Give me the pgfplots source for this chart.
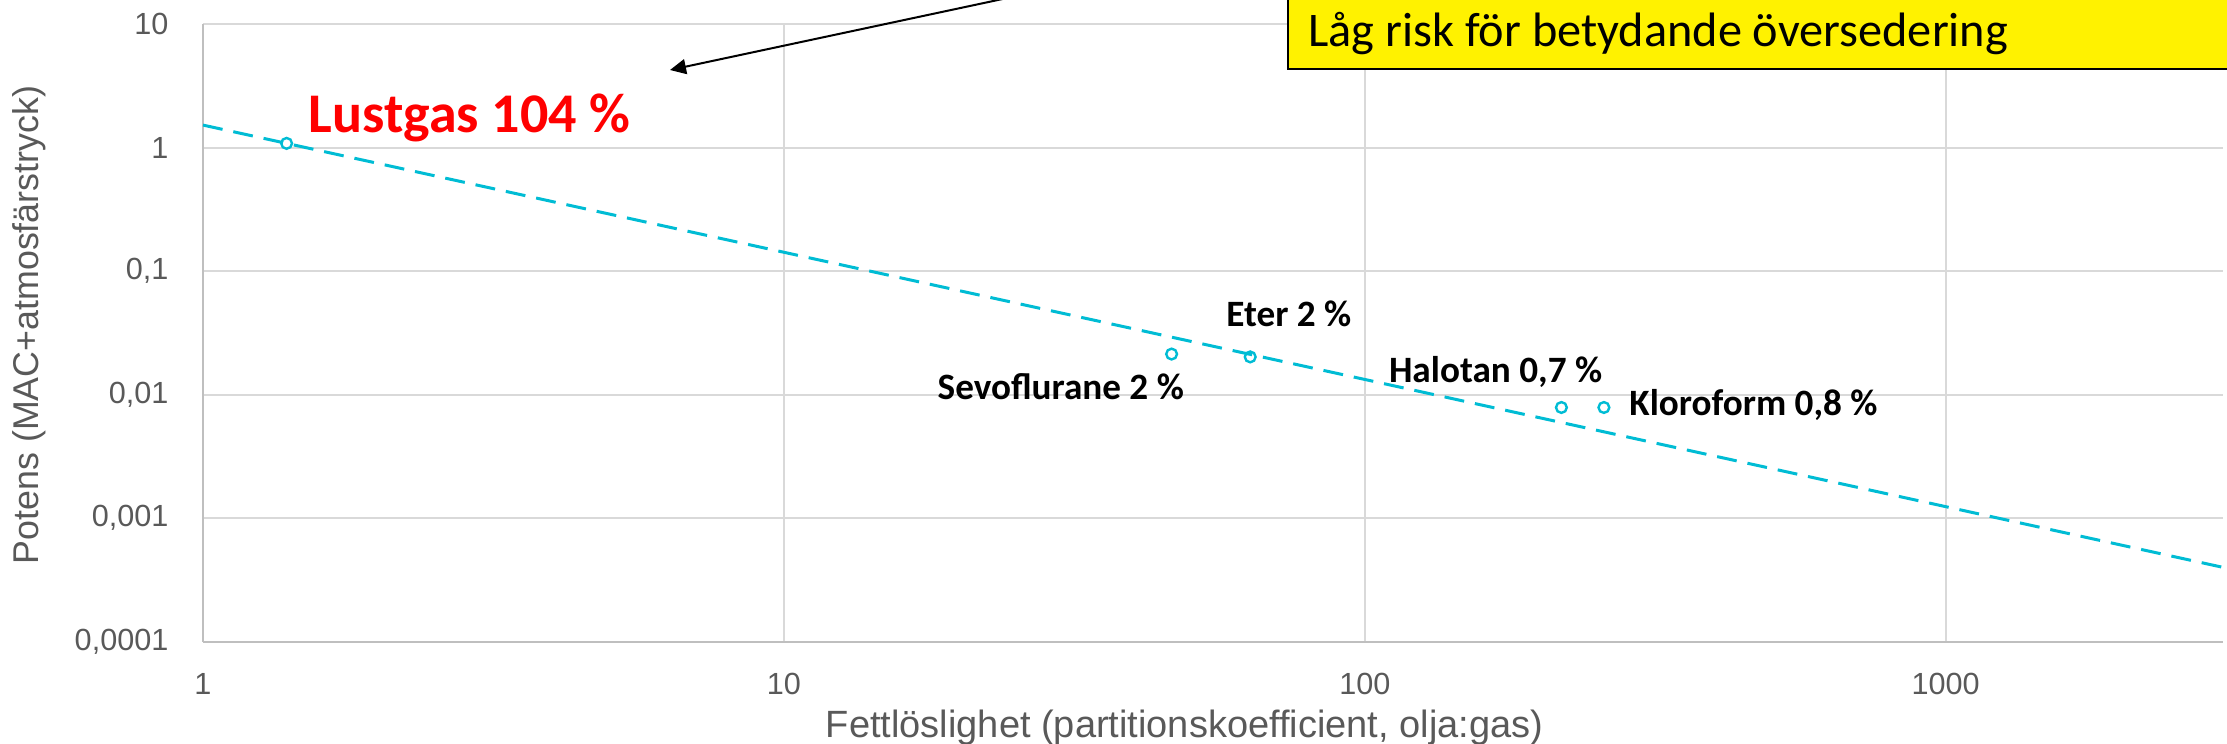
\documentclass[border=0pt]{standalone}
\usepackage{fontspec}
\setmainfont{Liberation Sans}
\newfontfamily\calibri{Carlito}
\usepackage{pgfplots}
\pgfplotsset{compat=1.18}
\usetikzlibrary{arrows.meta}
\definecolor{tickgray}{RGB}{89,89,89}
\definecolor{gridgray}{RGB}{217,217,217}
\definecolor{axisgray}{RGB}{191,191,191}
\definecolor{trend}{RGB}{0,188,212}

\begin{document}
\begin{tikzpicture}
\begin{axis}[
  scale only axis, width=1010pt, height=308.85pt,
  xmode=log, ymode=log,
  xmin=1, xmax=3000, ymin=1e-4, ymax=10,
  axis lines=left,
  axis line style={-, draw=axisgray, line width=1pt},
  grid=major,
  major grid style={draw=gridgray, line width=1pt},
  tick style={draw=none},
  xtick={1,10,100,1000}, xticklabels={1,10,100,1000},
  ytick={0.0001,0.001,0.01,0.1,1,10},
  yticklabels={{0,0001},{0,001},{0,01},{0,1},1,10},
  /pgf/number format/assume math mode=true,
  ticklabel style={font=\fontsize{15.3}{18}\selectfont, text=tickgray},
  xticklabel style={anchor=base, yshift=-24.5pt, inner sep=0pt},
  yticklabel style={anchor=east, xshift=-15pt, inner sep=0pt},
  xlabel={Fettlöslighet (partitionskoefficient, olja:gas)},
  ylabel={Potens (MAC+atmosfärstryck)},
  xlabel style={font=\fontsize{19}{22}\selectfont, text=tickgray,
    at={(axis description cs:0.486,-0.1392)}, anchor=center},
  ylabel style={font=\fontsize{17.9}{21}\selectfont, text=tickgray,
    at={(axis description cs:-0.0862,0.5127)}, anchor=center},
]
% trendlinje (potens)
\addplot[trend, line width=1.5pt, dash pattern=on 10pt off 5.5pt]
  coordinates {(1,1.52) (3000,0.0004)};
% gaser
\addplot[only marks, mark=o, mark size=2.7pt, trend, line width=1.2pt]
  coordinates {(1.393,1.081) (46.5,0.0213) (63.5,0.0202) (218,0.00787) (258,0.00787)};

\node[anchor=base west, inner sep=0pt, text=red,
  font=\calibri\bfseries\fontsize{28}{32}\selectfont]
  at (axis cs:1.517,1.335) {Lustgas 104 \%};
\node[anchor=base west, inner sep=0pt, font=\calibri\bfseries\fontsize{18.6}{21}\selectfont]
  at (axis cs:57.7,0.0354) {Eter 2 \%};
\node[anchor=base west, inner sep=0pt, font=\calibri\bfseries\fontsize{18.6}{21}\selectfont]
  at (axis cs:18.37,0.00914) {Sevoflurane 2 \%};
\node[anchor=base west, inner sep=0pt, font=\calibri\bfseries\fontsize{18.6}{21}\selectfont]
  at (axis cs:109.9,0.01247) {Halotan 0,7 \%};
\node[anchor=base west, inner sep=0pt, font=\calibri\bfseries\fontsize{18.6}{21}\selectfont]
  at (axis cs:285,0.00682) {Kloroform 0,8 \%};
\end{axis}

\draw[line width=1pt, -{Triangle[length=8pt,width=7.5pt]}]
  (444.35pt,330.85pt) -- (233.5pt,285.85pt);
\draw[fill=yellow, line width=0.8pt] (542.5pt,286.35pt) rectangle (1100pt,360pt);
\node[anchor=base west, inner sep=0pt, font=\calibri\fontsize{24.15}{28}\selectfont]
  at (552.5pt,297.35pt) {Låg risk för betydande översedering};

\pgfresetboundingbox
\useasboundingbox (-101.5pt,-51.15pt) rectangle (1012pt,320.85pt);
\end{tikzpicture}
\end{document}
